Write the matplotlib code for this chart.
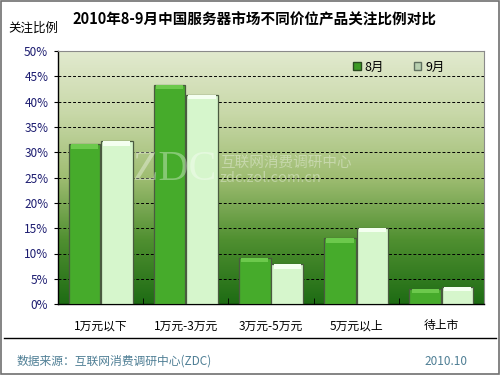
import numpy as np
import matplotlib
matplotlib.use("Agg")
import matplotlib.pyplot as plt
from matplotlib.colors import LinearSegmentedColormap
from matplotlib.patches import Patch, Rectangle
from matplotlib.lines import Line2D

plt.rcParams['font.family'] = ['Noto Sans CJK SC', 'DejaVu Sans']

categories = ["1万元以下", "1万元-3万元", "3万元-5万元", "5万元以上", "待上市"]
aug = [31.6, 43.3, 9.2, 13.0, 3.0]
sep = [32.2, 41.4, 7.9, 15.1, 3.4]
series_names = ["8月", "9月"]
yticks = [0, 5, 10, 15, 20, 25, 30, 35, 40, 45, 50]

fig = plt.figure(figsize=(5, 3.75), dpi=100)
ax = fig.add_axes([0.116, 0.189, 0.852, 0.675])

n = len(categories)
x = np.arange(n)

# background gradient (light top -> dark green bottom)
cmap = LinearSegmentedColormap.from_list(
    "bg", ["#1e6c14", "#4f8f30", "#9fbd72", "#c8d8a8", "#e2eacf"])
grad = np.linspace(0, 1, 256).reshape(-1, 1)
ax.imshow(grad, cmap=cmap, origin="lower", aspect="auto",
          extent=[-0.5, n - 0.5, 0, 50], zorder=0)

w = 0.37
for vals, off, face, cap in [(aug, -0.19, "#46ab2b", "#6cc94c"),
                             (sep, 0.19, "#d6f6cc", "#f4fff0")]:
    ax.bar(x + off, vals, width=w, color=face, edgecolor="#4a5a40",
           linewidth=0.9, zorder=3)
    ax.bar(x + off, [0.9] * n, bottom=[v - 0.9 for v in vals], width=w * 0.86,
           color=cap, linewidth=0, zorder=4)

# watermark
ax.text(0.87, 26.5, "ZDC", fontsize=30, color="white", alpha=0.35,
        family=["Liberation Serif"], ha="center", va="center", zorder=5)
ax.text(1.40, 27.9, "互联网消费调研中心", fontsize=10.5, color="white", alpha=0.35,
        ha="left", va="center", zorder=5)
ax.text(1.40, 24.9, "zdc.zol.com.cn", fontsize=10.5, color="white", alpha=0.35,
        ha="left", va="center", zorder=5)

ax.set_xlim(-0.5, n - 0.5)
ax.set_ylim(0, 50)
ax.set_yticks(yticks)
ax.set_yticklabels([f"{v}%" for v in yticks], color="#1c1c70", fontsize=8.5)
ax.set_xticks(x)
ax.set_xticklabels(categories, fontsize=8.5)
ax.set_xticks(np.arange(n + 1) - 0.5, minor=True)
ax.tick_params(axis="x", which="major", length=0, pad=11)
ax.tick_params(axis="x", which="minor", direction="in", length=4)
ax.tick_params(axis="y", length=3, pad=4)

for v in yticks[1:-1]:
    ax.axhline(v, color="black", lw=0.7, ls=(0, (3, 2)), zorder=2)

for s in ["left", "bottom"]:
    ax.spines[s].set_color("black")
    ax.spines[s].set_linewidth(1.0)
for s in ["top", "right"]:
    ax.spines[s].set_color("#8a8a8a")
    ax.spines[s].set_linewidth(0.8)

handles = [Patch(facecolor="#3c9a24", edgecolor="#2a4a20"),
           Patch(facecolor="#b8d0b0", edgecolor="#607060")]
ax.legend(handles, series_names, loc="center", bbox_to_anchor=(0.8, 0.937),
          ncol=2, frameon=False, fontsize=9, handlelength=0.6,
          handleheight=0.6, handletextpad=0.3, columnspacing=2.4)

fig.text(0.508, 0.947, "2010年8-9月中国服务器市场不同价位产品关注比例对比",
         ha="center", va="center", fontsize=10.5, fontweight="bold")
fig.text(0.016, 0.925, "关注比例", ha="left", va="center", fontsize=9)

fig.add_artist(Line2D([0.008, 0.992], [0.0987, 0.0987], color="black", lw=1.0))
fig.text(0.034, 0.037, "数据来源：互联网消费调研中心(ZDC)", ha="left", va="center",
         fontsize=8.5, color="#4f7f95")
fig.text(0.934, 0.037, "2010.10", ha="right", va="center", fontsize=8.5,
         color="#4f7f95")

fig.add_artist(Rectangle((0.002, 0.003), 0.995, 0.994, transform=fig.transFigure,
                         fill=False, edgecolor="#707070", lw=1.2))

fig.savefig("out.png", dpi=100)
